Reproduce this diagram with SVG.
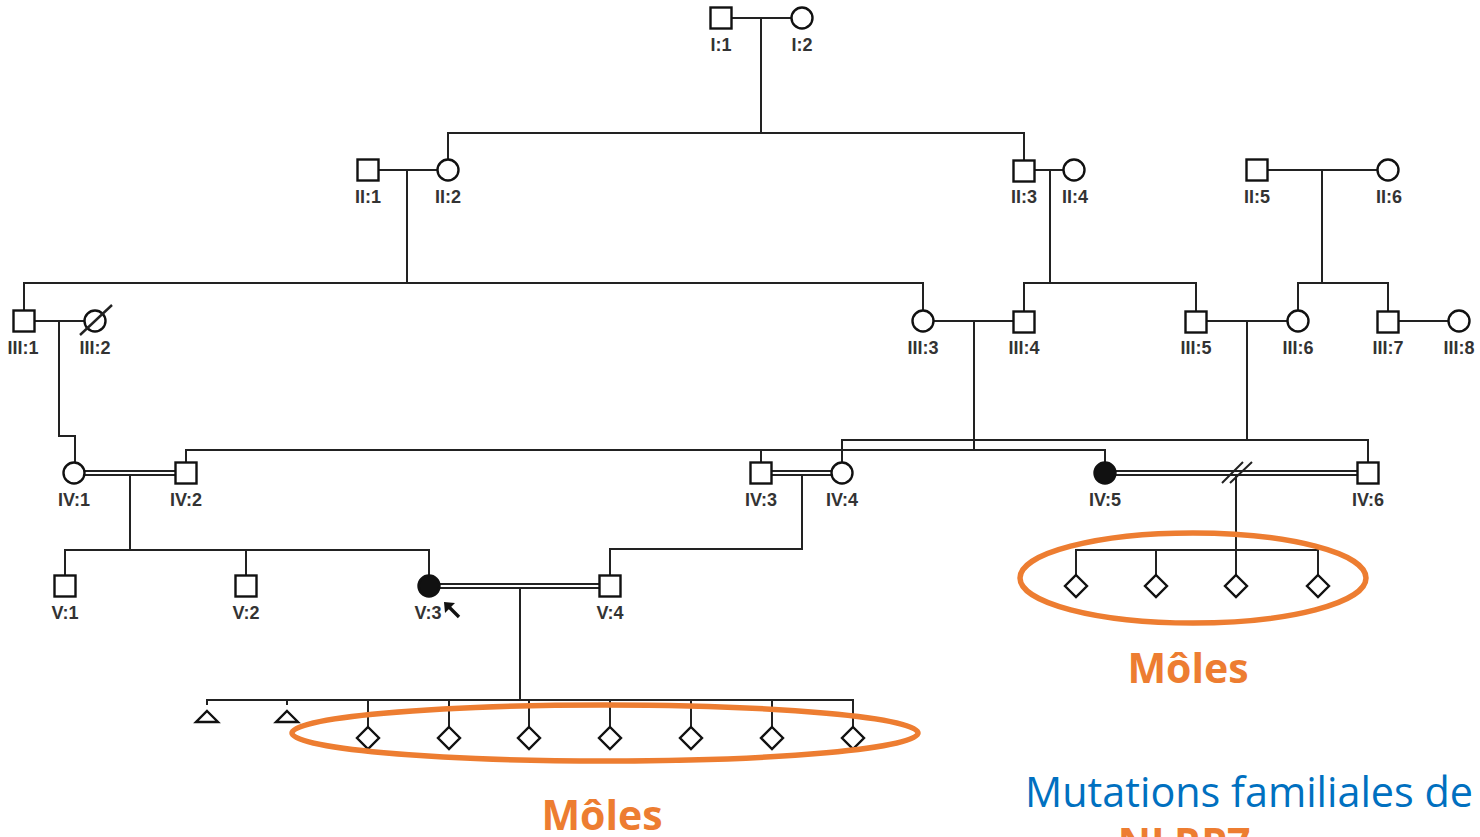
<svg xmlns="http://www.w3.org/2000/svg" width="1480" height="837" viewBox="0 0 1480 837">
<style>
.ln{stroke:#222;stroke-width:2;fill:none}
.sym{stroke:#111;stroke-width:2.4;fill:#fff}
.aff{stroke:#111;stroke-width:2.4;fill:#111}
.lbl{font-family:"Liberation Sans",Arial,sans-serif;font-weight:bold;font-size:18px;fill:#333;text-anchor:middle}
.moles{font-family:"Open Sans","Liberation Sans",sans-serif;font-weight:bold;font-size:41px;fill:#ED7D31;text-anchor:middle}
.blue{font-family:"Open Sans","Liberation Sans",sans-serif;font-size:42px;fill:#0070C0}
.ell{stroke:#ED7D31;stroke-width:5.5;fill:none}
</style>
<rect width="1480" height="837" fill="#fff"/>
<defs>
<rect id="sq" x="-10.5" y="-10.5" width="21" height="21"/>
<circle id="ci" r="10.5"/>
<polygon id="dm" points="0,-11 11,0 0,11 -11,0"/>
<polygon id="tr" points="0,-5 11,6 -11,6"/>
</defs>

<g id="connectors">
<path class="ln" d="M731,18 H791 M761,18 V133"/>
<path class="ln" d="M448,159 V133 H1024 V160"/>
<path class="ln" d="M379,170 H437 M407,170 V283"/>
<path class="ln" d="M1035,170 H1063 M1050,170 V283"/>
<path class="ln" d="M1268,170 H1377 M1322,170 V283"/>
<path class="ln" d="M24,311 V283 H923 V311"/>
<path class="ln" d="M1024,311 V283 H1196 V311"/>
<path class="ln" d="M1298,311 V283 H1388 V311"/>
<path class="ln" d="M34,321 H84 M59,321 V436 H75 V462"/>
<path class="ln" d="M934,321 H1013 M974,321 V450"/>
<path class="ln" d="M1207,321 H1287 M1247,321 V440"/>
<path class="ln" d="M1398,321 H1448"/>
<path class="ln" d="M186,462 V450 H1105 V462 M761,450 V462"/>
<path class="ln" d="M842,462 V440 H1368 V462"/>
<path class="ln" d="M85,471 H176 M85,475 H176 M130,475 V550"/>
<path class="ln" d="M65,575 V550 H429 V575 M246,550 V575"/>
<path class="ln" d="M772,471 H831 M772,475 H831 M802,475 V549 H610 V575"/>
<path class="ln" d="M1116,471 H1358 M1116,475 H1358"/>
<path class="ln" d="M1222,483 L1243,462 M1230,483 L1252,462"/>
<path class="ln" d="M1236,475 V575 M1076,575 V550 H1318 V575 M1156,550 V575"/>
<path class="ln" d="M440,584 H599 M440,588 H599 M520,588 V700"/>
<path class="ln" d="M207,705 V700 H853 V727 M287,700 V705 M368,700 V727 M449,700 V727 M529,700 V727 M610,700 V727 M691,700 V727 M772,700 V727"/>
</g>

<g id="I1"><use href="#sq" class="sym" x="721" y="18"/><text class="lbl" x="721" y="51">I:1</text></g>
<g id="I2"><use href="#ci" class="sym" x="802" y="18"/><text class="lbl" x="802" y="51">I:2</text></g>

<g id="II1"><use href="#sq" class="sym" x="368" y="170"/><text class="lbl" x="368" y="203">II:1</text></g>
<g id="II2"><use href="#ci" class="sym" x="448" y="170"/><text class="lbl" x="448" y="203">II:2</text></g>
<g id="II3"><use href="#sq" class="sym" x="1024" y="171"/><text class="lbl" x="1024" y="203">II:3</text></g>
<g id="II4"><use href="#ci" class="sym" x="1074" y="170"/><text class="lbl" x="1075" y="203">II:4</text></g>
<g id="II5"><use href="#sq" class="sym" x="1257" y="170"/><text class="lbl" x="1257" y="203">II:5</text></g>
<g id="II6"><use href="#ci" class="sym" x="1388" y="170"/><text class="lbl" x="1389" y="203">II:6</text></g>

<g id="III1"><use href="#sq" class="sym" x="24" y="321"/><text class="lbl" x="23" y="354">III:1</text></g>
<g id="III2"><use href="#ci" class="sym" x="95" y="321"/><path class="ln" d="M80,335 L112,305" style="stroke-width:2.4"/><text class="lbl" x="95" y="354">III:2</text></g>
<g id="III3"><use href="#ci" class="sym" x="923" y="321"/><text class="lbl" x="923" y="354">III:3</text></g>
<g id="III4"><use href="#sq" class="sym" x="1024" y="322"/><text class="lbl" x="1024" y="354">III:4</text></g>
<g id="III5"><use href="#sq" class="sym" x="1196" y="322"/><text class="lbl" x="1196" y="354">III:5</text></g>
<g id="III6"><use href="#ci" class="sym" x="1298" y="321"/><text class="lbl" x="1298" y="354">III:6</text></g>
<g id="III7"><use href="#sq" class="sym" x="1388" y="322"/><text class="lbl" x="1388" y="354">III:7</text></g>
<g id="III8"><use href="#ci" class="sym" x="1459" y="321"/><text class="lbl" x="1459" y="354">III:8</text></g>

<g id="IV1"><use href="#ci" class="sym" x="74" y="473"/><text class="lbl" x="74" y="506">IV:1</text></g>
<g id="IV2"><use href="#sq" class="sym" x="186" y="473"/><text class="lbl" x="186" y="506">IV:2</text></g>
<g id="IV3"><use href="#sq" class="sym" x="761" y="473"/><text class="lbl" x="761" y="506">IV:3</text></g>
<g id="IV4"><use href="#ci" class="sym" x="842" y="473"/><text class="lbl" x="842" y="506">IV:4</text></g>
<g id="IV5"><use href="#ci" class="aff" x="1105" y="473"/><text class="lbl" x="1105" y="506">IV:5</text></g>
<g id="IV6"><use href="#sq" class="sym" x="1368" y="473"/><text class="lbl" x="1368" y="506">IV:6</text></g>

<g id="V1"><use href="#sq" class="sym" x="65" y="586"/><text class="lbl" x="65" y="619">V:1</text></g>
<g id="V2"><use href="#sq" class="sym" x="246" y="586"/><text class="lbl" x="246" y="619">V:2</text></g>
<g id="V3"><use href="#ci" class="aff" x="429" y="586"/><text class="lbl" x="428" y="619">V:3</text>
<path d="M459,617 L449,607" stroke="#111" stroke-width="3.4" fill="none"/><polygon points="444,602 455,603 445,613" fill="#111"/></g>
<g id="V4"><use href="#sq" class="sym" x="610" y="586"/><text class="lbl" x="610" y="619">V:4</text></g>

<g id="VI-losses">
<use href="#tr" class="sym" x="207" y="716"/>
<use href="#tr" class="sym" x="287" y="716"/>
</g>
<g id="VI-moles">
<use href="#dm" class="sym" x="368" y="738"/>
<use href="#dm" class="sym" x="449" y="738"/>
<use href="#dm" class="sym" x="529" y="738"/>
<use href="#dm" class="sym" x="610" y="738"/>
<use href="#dm" class="sym" x="691" y="738"/>
<use href="#dm" class="sym" x="772" y="738"/>
<use href="#dm" class="sym" x="853" y="738"/>
</g>
<g id="V-moles">
<use href="#dm" class="sym" x="1076" y="586"/>
<use href="#dm" class="sym" x="1156" y="586"/>
<use href="#dm" class="sym" x="1236" y="586"/>
<use href="#dm" class="sym" x="1318" y="586"/>
</g>

<g id="annotations">
<ellipse class="ell" cx="1193" cy="578" rx="173" ry="45"/>
<ellipse class="ell" cx="605" cy="733" rx="313" ry="28"/>
<text class="moles" x="1188" y="683">Môles</text>
<text class="moles" x="602" y="830">Môles</text>
<text class="blue" x="1025" y="807" textLength="448" lengthAdjust="spacingAndGlyphs">Mutations familiales de</text>
<text class="moles" x="1184" y="858">NLRP7</text>
</g>
</svg>
